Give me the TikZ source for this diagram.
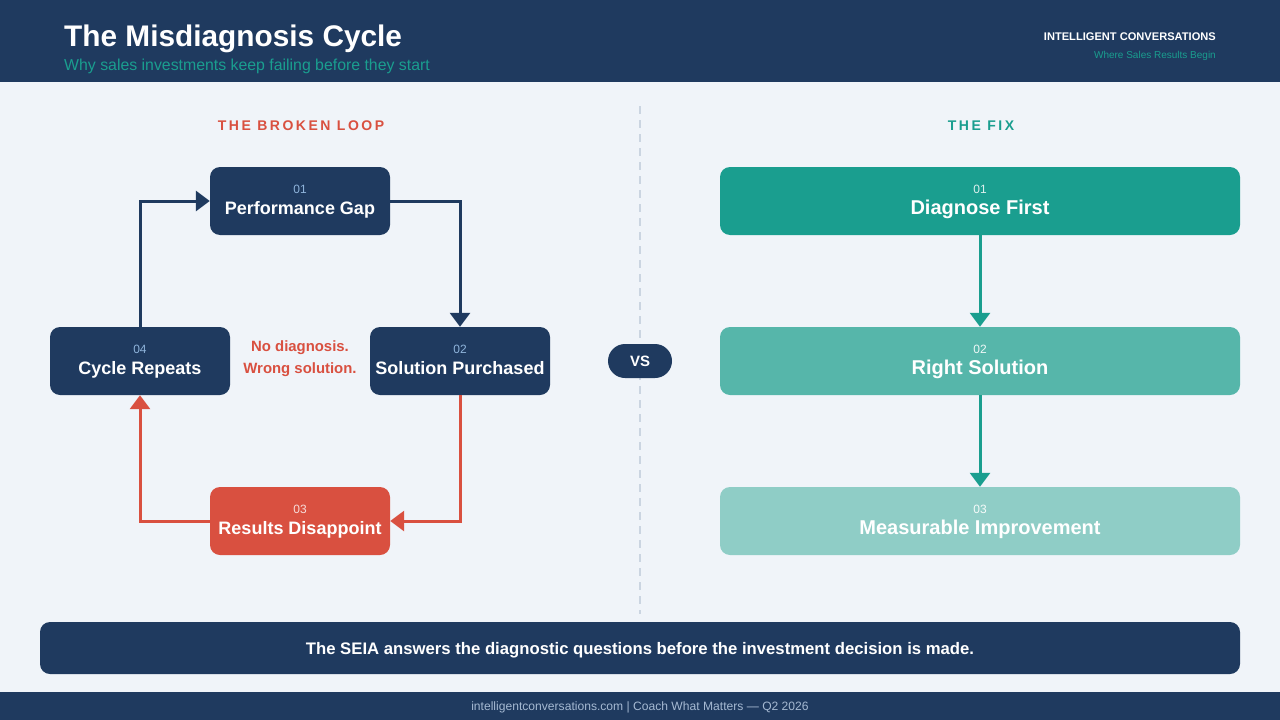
\documentclass[tikz,border=0pt]{standalone}
\usepackage{fontspec}
\setmainfont{Liberation Sans}
\newfontfamily\spacedfont[LetterSpace=18]{Liberation Sans}
\usetikzlibrary{arrows.meta}
\definecolor{navy}{RGB}{31,58,95}
\definecolor{teal1}{RGB}{26,158,143}
\definecolor{teal2}{RGB}{86,182,170}
\definecolor{teal3}{RGB}{143,205,198}
\definecolor{coral}{RGB}{217,80,64}
\definecolor{bgc}{RGB}{240,244,249}
\definecolor{numblue}{RGB}{143,180,219}
\definecolor{footc}{RGB}{165,185,210}
\definecolor{dashc}{RGB}{203,213,225}
\tikzset{
  fsz/.style={font=\fontsize{#1}{#1}\selectfont},
  fszb/.style={font=\fontsize{#1}{#1}\selectfont\bfseries},
  box/.style={rectangle, rounded corners=10pt, draw=none, inner sep=0pt},
  loopbox/.style={box, minimum width=180pt, minimum height=68pt},
  fixbox/.style={box, minimum width=520pt, minimum height=68pt},
  numtxt/.style={inner sep=0pt, anchor=base, fsz=12},
  ttl/.style={inner sep=0pt, anchor=base, fszb=18, text=white},
  fixttl/.style={inner sep=0pt, anchor=base, fszb=20, text=white},
  arr/.style={line width=3pt, -{Triangle[length=14pt,width=20pt]}},
}
\begin{document}
\begin{tikzpicture}[x=1pt,y=-1pt]
\useasboundingbox (0,0) rectangle (1280,720);
\fill[bgc] (0,0) rectangle (1280,720);
% header
\fill[navy] (0,0) rectangle (1280,82);
\node[inner sep=0pt, anchor=base west, fszb=29.8, text=white] (title) at (64,46) {The Misdiagnosis Cycle};
\node[inner sep=0pt, anchor=base west, fsz=15.85, text=teal1] (subtitle) at (64,70) {Why sales investments keep failing before they start};
\node[inner sep=0pt, anchor=base east, fszb=11.1, text=white] (brand) at (1216,40) {INTELLIGENT CONVERSATIONS};
\node[inner sep=0pt, anchor=base east, fsz=10, text=teal1] (tagline) at (1216,58) {Where Sales Results Begin};
% footer
\fill[navy] (0,692) rectangle (1280,720);
\node[inner sep=0pt, anchor=base, fsz=12.1, text=footc] (foot) at (640,710) {intelligentconversations.com | Coach What Matters — Q2 2026};
% divider
\draw[dashc, line width=2pt, dash pattern=on 8pt off 6pt] (640,106) -- (640,614);
% section titles
\node[inner sep=0pt, anchor=base, text=coral, font=\fontsize{14}{14}\selectfont\spacedfont\bfseries] (lhead) at (301,130) {THE BROKEN LOOP};
\node[inner sep=0pt, anchor=base, text=teal1, font=\fontsize{14}{14}\selectfont\spacedfont\bfseries] (rhead) at (981,130) {THE FIX};
% loop boxes
\node[loopbox, fill=navy] (p1) at (300,201) {};
\node[loopbox, fill=navy] (p2) at (460,361) {};
\node[loopbox, fill=coral] (p3) at (300,521) {};
\node[loopbox, fill=navy] (p4) at (140,361) {};
\node[numtxt, text=numblue] (p1n) at ([yshift=8pt]p1.center) {01};
\node[ttl] (p1t) at ([yshift=-13pt]p1.center) {Performance Gap};
\node[numtxt, text=numblue] (p2n) at ([yshift=8pt]p2.center) {02};
\node[ttl] (p2t) at ([yshift=-13pt]p2.center) {Solution Purchased};
\node[numtxt, text=white!80!coral] (p3n) at ([yshift=8pt]p3.center) {03};
\node[ttl] (p3t) at ([yshift=-13pt]p3.center) {Results Disappoint};
\node[numtxt, text=numblue] (p4n) at ([yshift=8pt]p4.center) {04};
\node[ttl] (p4t) at ([yshift=-13pt]p4.center) {Cycle Repeats};
% loop arrows
\draw[arr, navy] (p1.east) -| (p2.north);
\draw[arr, coral] (p2.south) |- (p3.east);
\draw[arr, coral] (p3.west) -| (p4.south);
\draw[arr, navy] (p4.north) |- (p1.west);
% centre note
\node[inner sep=0pt, anchor=base, fszb=14.9, text=coral] (note1) at (300,351) {No diagnosis.};
\node[inner sep=0pt, anchor=base, fszb=14.9, text=coral] (note2) at (300,373) {Wrong solution.};
% vs pill
\node[rectangle, rounded corners=17pt, fill=navy, minimum width=64pt, minimum height=34pt, inner sep=0pt, text=white, fszb=15] (vs) at (640,361) {VS};
% fix boxes
\node[fixbox, fill=teal1] (f1) at (980,201) {};
\node[fixbox, fill=teal2] (f2) at (980,361) {};
\node[fixbox, fill=teal3] (f3) at (980,521) {};
\node[numtxt, text=white!85!teal1] (f1n) at ([yshift=8pt]f1.center) {01};
\node[fixttl] (f1t) at ([yshift=-13pt]f1.center) {Diagnose First};
\node[numtxt, text=white!90!teal2] (f2n) at ([yshift=8pt]f2.center) {02};
\node[fixttl] (f2t) at ([yshift=-13pt]f2.center) {Right Solution};
\node[numtxt, text=white!92!teal3] (f3n) at ([yshift=8pt]f3.center) {03};
\node[fixttl] (f3t) at ([yshift=-13pt]f3.center) {Measurable Improvement};
\draw[arr, teal1] (f1.south) -- (f2.north);
\draw[arr, teal1] (f2.south) -- (f3.north);
% bottom banner
\node[box, fill=navy, minimum width=1200pt, minimum height=52pt] (banner) at (640,648) {};
\node[inner sep=0pt, anchor=base, fszb=16.7, text=white] (bannertxt) at ([yshift=-6pt]banner.center) {The SEIA answers the diagnostic questions before the investment decision is made.};
\end{tikzpicture}
\end{document}
